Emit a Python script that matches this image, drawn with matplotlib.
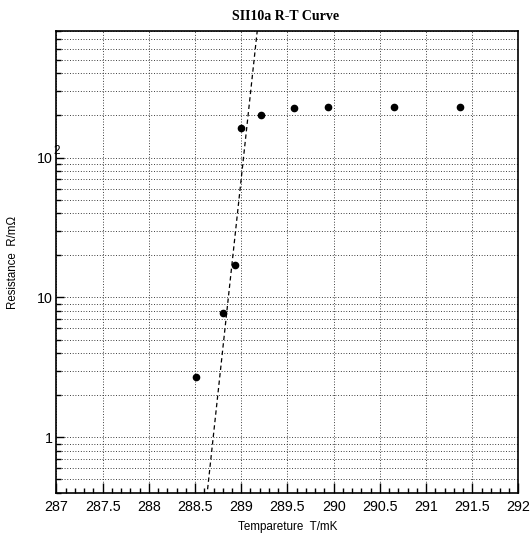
import numpy as np
import matplotlib
matplotlib.use("Agg")
import matplotlib.pyplot as plt
from matplotlib.ticker import LogLocator, FixedLocator, MultipleLocator, NullFormatter, FixedFormatter
from matplotlib.transforms import blended_transform_factory, ScaledTranslation

# ---- data ----
temperature_mK = [288.51, 288.80, 288.93, 289.00, 289.21, 289.57, 289.94, 290.65, 291.37]
resistance_mOhm = [2.68, 7.76, 17.0, 163, 201, 225, 229, 230, 230]

# exponential fit: log10(R) = fit_p0 + fit_p1 * (T - fit_T0)
fit_T0 = 289.0
fit_p0 = 1.85
fit_p1 = 6.1
fit_range = [288.55, 289.25]

x_ticks = [287, 287.5, 288, 288.5, 289, 289.5, 290, 290.5, 291, 291.5, 292]
x_tick_labels = ["287", "287.5", "288", "288.5", "289", "289.5", "290", "290.5", "291", "291.5", "292"]
y_ticks = [1, 10, 100]
y_tick_labels = ["1", "10", "10"]

title = "SII10a R-T Curve"
xlabel = "Tempareture  T/mK"
ylabel = "Resistance  R/m\u03a9"

plt.rcParams['font.family'] = ['Liberation Sans', 'DejaVu Sans']

fig = plt.figure(figsize=(5.30, 5.33), dpi=100)
ax = fig.add_axes([0.1064, 0.0745, 0.8719, 0.8677])

ax.set_yscale('log')
ax.set_xlim(287, 292)
ax.set_ylim(0.398, 805)

# fit line
tf = np.linspace(fit_range[0], fit_range[1], 200)
rf = 10 ** (fit_p0 + fit_p1 * (tf - fit_T0))
ax.plot(tf, rf, color='black', lw=0.9, ls=(0, (3.5, 2.5)), zorder=3)

# data points
ax.plot(temperature_mK, resistance_mOhm, 'o', color='black', ms=4.5, zorder=4)

# ticks
ax.xaxis.set_major_locator(FixedLocator(x_ticks))
ax.xaxis.set_major_formatter(FixedFormatter(x_tick_labels))
ax.xaxis.set_minor_locator(MultipleLocator(0.1))
ax.yaxis.set_major_locator(FixedLocator(y_ticks))
ax.yaxis.set_major_formatter(FixedFormatter(y_tick_labels))
ax.yaxis.set_minor_locator(LogLocator(base=10, subs=np.arange(2, 10) * 1.0, numticks=20))
ax.yaxis.set_minor_formatter(NullFormatter())

ax.tick_params(axis='both', which='both', direction='in', top=False, right=False,
               labelsize=10.3, color='black')
ax.tick_params(axis='x', which='major', length=7, width=1.0, pad=5)
ax.tick_params(axis='x', which='minor', length=3.5, width=1.0)
ax.tick_params(axis='y', which='major', length=6, width=1.0, pad=2.5)
ax.tick_params(axis='y', which='minor', length=3.5, width=1.0)

# grid
grid_kw = dict(color='#222222', lw=0.65, ls=(0, (1, 2)))
ax.grid(True, which='major', axis='x', **grid_kw)
ax.grid(True, which='both', axis='y', **grid_kw)
ax.set_axisbelow(True)

for s in ax.spines.values():
    s.set_linewidth(1.2)
    s.set_color('black')

# superscript of the 10^2 label (ROOT style)
trans = blended_transform_factory(ax.transAxes, ax.transData) + ScaledTranslation(0, 5 / 72, fig.dpi_scale_trans)
ax.text(0.0005, 100, "2", transform=trans, fontsize=8.5, ha='center', va='center')

ax.set_xlabel(xlabel, fontsize=8.4)
ax.set_ylabel(ylabel, fontsize=8.3)
ax.xaxis.set_label_coords(0.5, -0.073)
ax.xaxis.label.set_va('center')
ax.yaxis.set_label_coords(-0.094, 0.5)
ax.yaxis.label.set_va('center')

fig.text(286 / 530, 1 - 16.5 / 533, title, ha='center', va='center',
         fontsize=10, fontweight='bold', family=['Liberation Serif', 'DejaVu Serif'])

fig.savefig("out.png", dpi=100)
